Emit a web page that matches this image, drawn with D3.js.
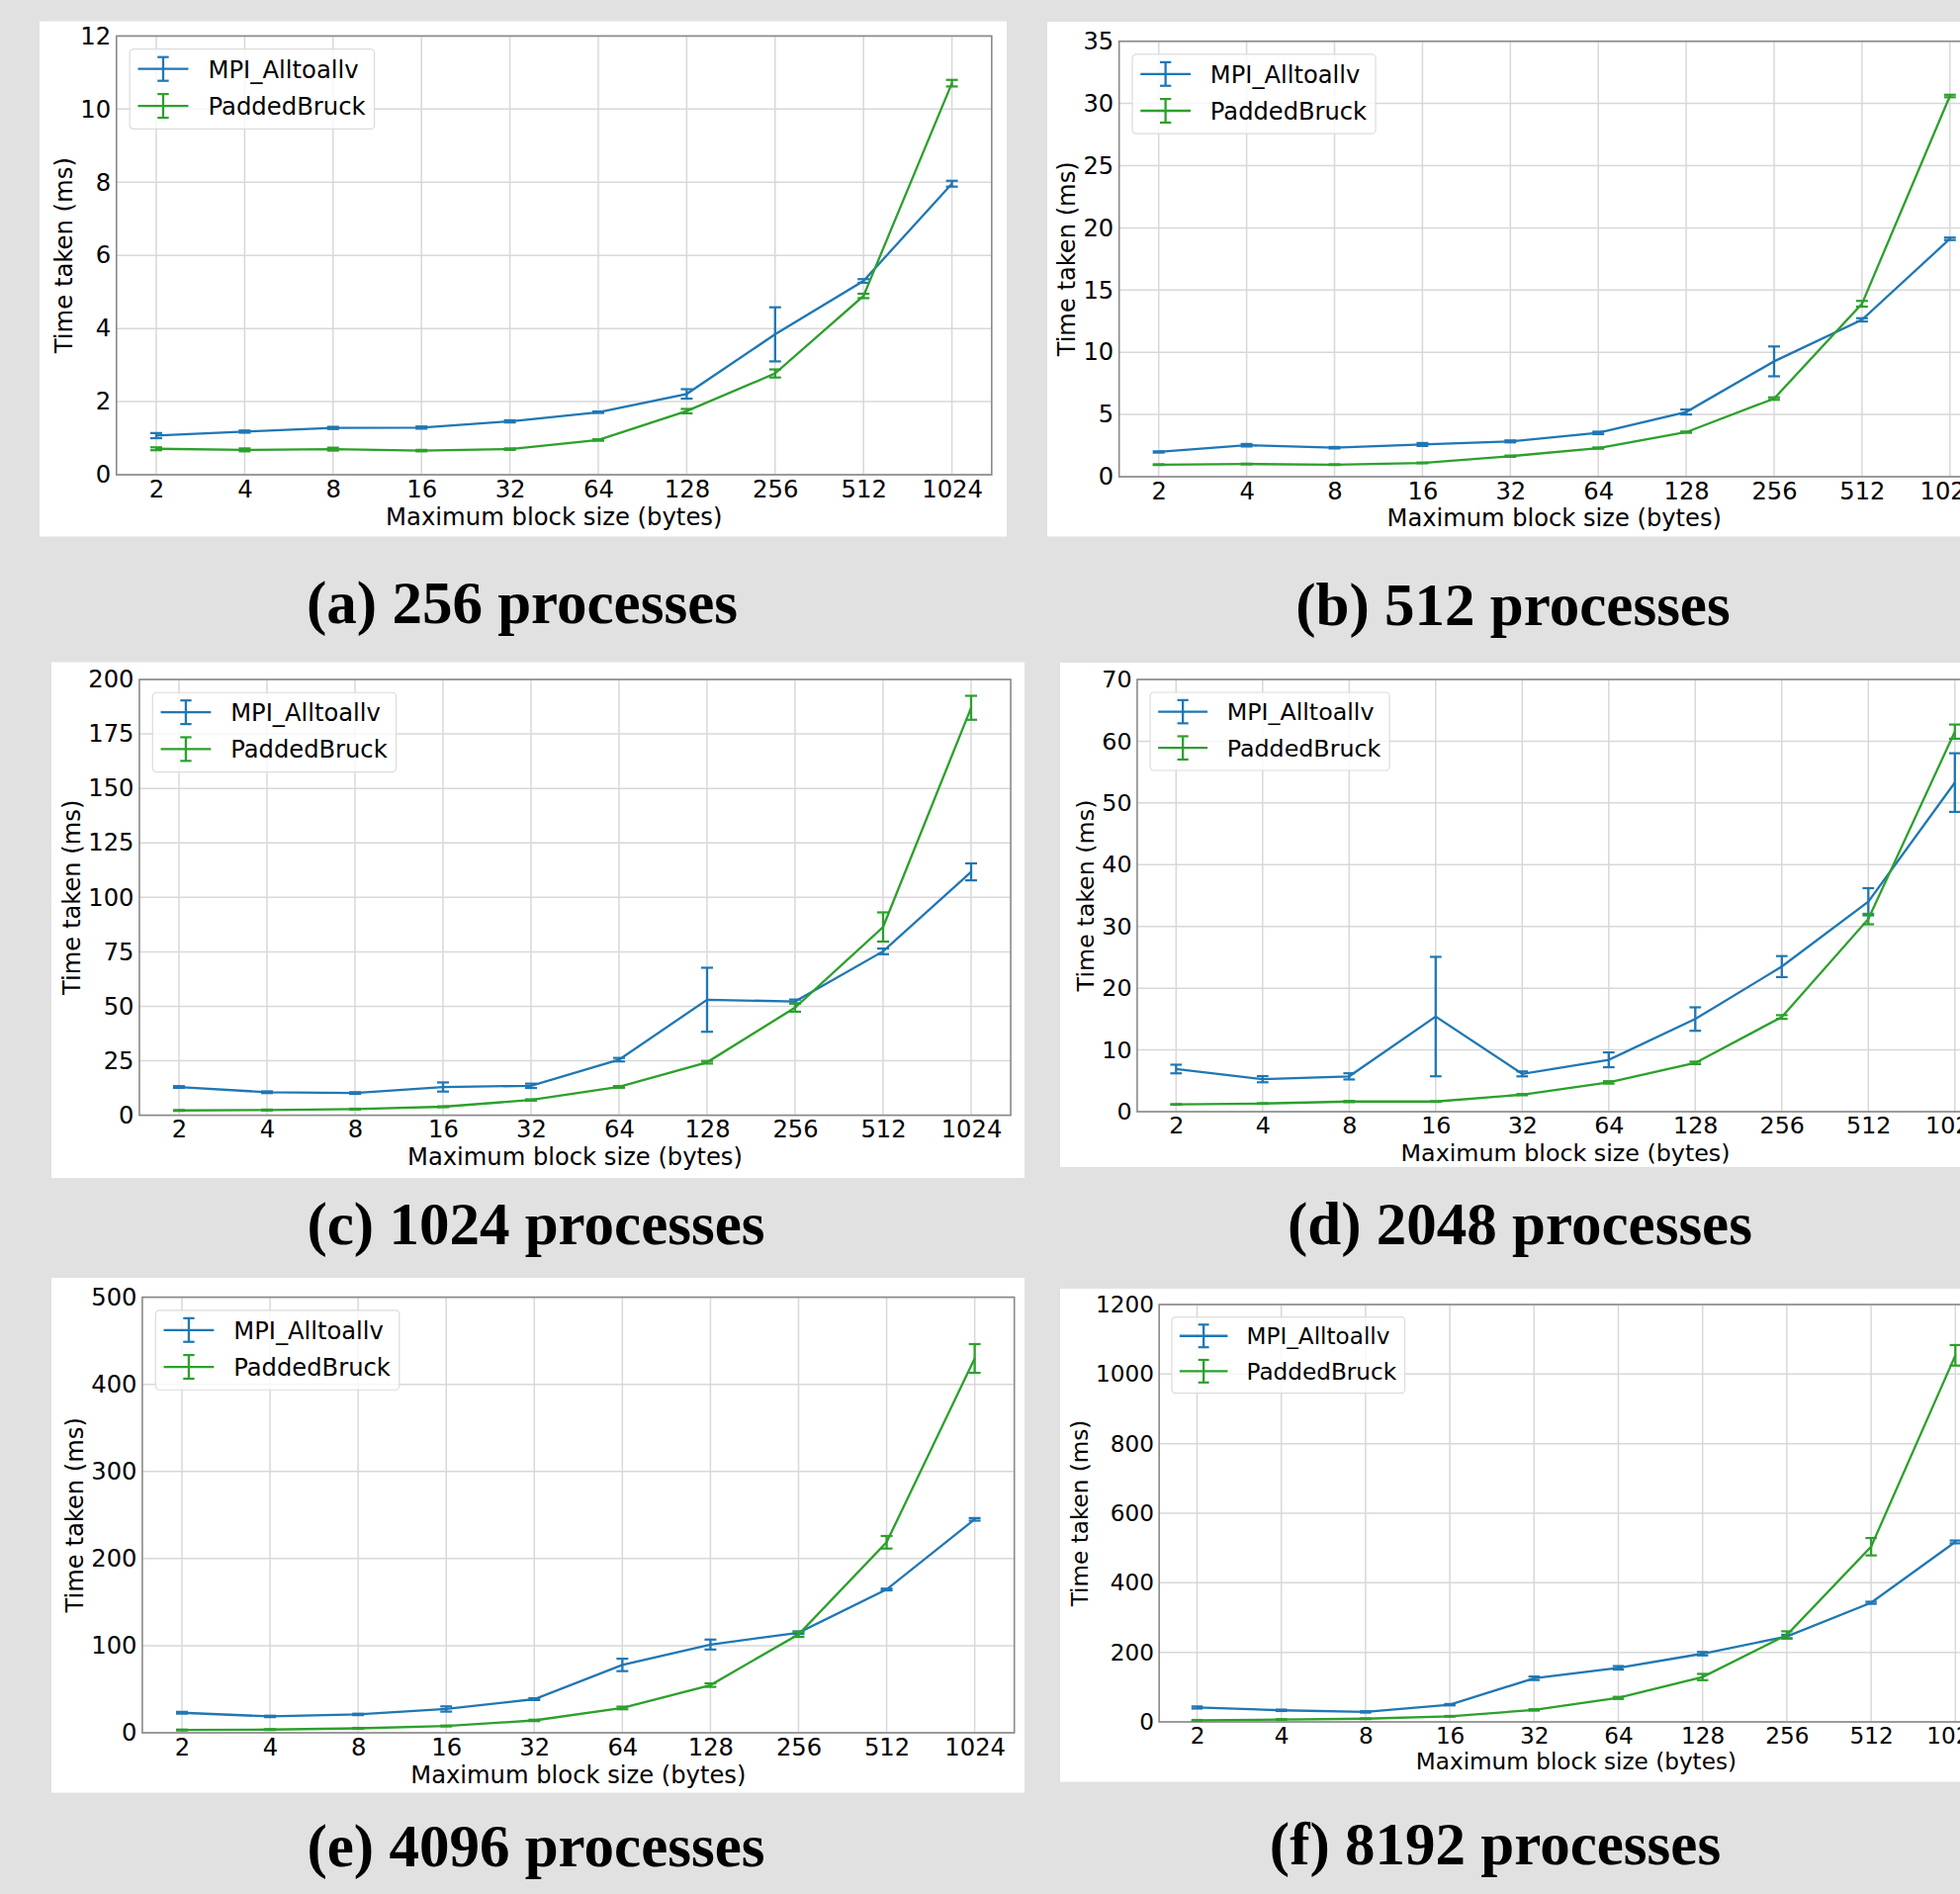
<!DOCTYPE html>
<html>
<head>
<meta charset="utf-8">
<script src="https://cdn.jsdelivr.net/npm/d3@7"></script>
<style>
body { margin: 0; background: #e1e1e1; }
svg { display: block; }
</style>
</head>
<body>
<svg></svg>
<script>
// x軸のカテゴリ
var blockSizes = ["2", "4", "8", "16", "32", "64", "128", "256", "512", "1024"];
var seriesNames = ["MPI_Alltoallv", "PaddedBruck"];

// (a) 256 processes
var mpiA = [1.07, 1.18, 1.28, 1.29, 1.46, 1.71, 2.21, 3.84, 5.30, 7.96];
var mpiAErr = [0.07, 0.03, 0.03, 0.03, 0.03, 0.02, 0.13, 0.74, 0.05, 0.08];
var bruckA = [0.71, 0.68, 0.70, 0.66, 0.70, 0.95, 1.74, 2.77, 4.89, 10.71];
var bruckAErr = [0.04, 0.04, 0.04, 0.02, 0.02, 0.02, 0.06, 0.11, 0.06, 0.09];
var yTicksA = [0, 2, 4, 6, 8, 10, 12];

// (b) 512 processes
var mpiB = [1.99, 2.53, 2.33, 2.59, 2.84, 3.52, 5.2, 9.27, 12.61, 19.12];
var mpiBErr = [0.05, 0.1, 0.06, 0.12, 0.08, 0.1, 0.2, 1.2, 0.13, 0.1];
var bruckB = [0.97, 1.02, 0.97, 1.11, 1.65, 2.30, 3.58, 6.28, 13.9, 30.6];
var bruckBErr = [0.03, 0.03, 0.03, 0.03, 0.05, 0.05, 0.05, 0.1, 0.23, 0.1];
var yTicksB = [0, 5, 10, 15, 20, 25, 30, 35];

// (c) 1024 processes
var mpiC = [12.96, 10.56, 10.19, 12.96, 13.5, 25.5, 53.0, 52.2, 75.2, 111.7];
var mpiCErr = [0.4, 0.4, 0.4, 2.1, 1.0, 0.8, 14.7, 0.9, 1.3, 3.9];
var bruckC = [2.2, 2.4, 2.8, 3.9, 7.0, 13.0, 24.3, 49.4, 86.4, 187.0];
var bruckCErr = [0.2, 0.2, 0.2, 0.2, 0.3, 0.4, 0.6, 1.9, 6.7, 5.5];
var yTicksC = [0, 25, 50, 75, 100, 125, 150, 175, 200];

// (d) 2048 processes
var mpiD = [6.91, 5.26, 5.72, 15.4, 6.12, 8.4, 15.0, 23.5, 34.0, 53.3];
var mpiDErr = [0.7, 0.5, 0.5, 9.67, 0.4, 1.2, 1.9, 1.7, 2.2, 4.75];
var bruckD = [1.18, 1.32, 1.64, 1.64, 2.76, 4.74, 7.9, 15.33, 31.2, 61.55];
var bruckDErr = [0.05, 0.05, 0.1, 0.05, 0.1, 0.2, 0.2, 0.3, 0.85, 1.15];
var yTicksD = [0, 10, 20, 30, 40, 50, 60, 70];

// (e) 4096 processes
var mpiE = [23.0, 18.8, 21.1, 27.3, 38.6, 77.9, 101.3, 114.9, 164.5, 245];
var mpiEErr = [1, 0.8, 0.8, 3, 1, 7.1, 5.7, 1.5, 1, 1.5];
var bruckE = [3.2, 3.7, 5.1, 7.8, 14.2, 28.5, 54.7, 113, 218.7, 429.7];
var bruckEErr = [0.5, 0.5, 0.5, 0.5, 0.8, 1.5, 2, 3, 7.2, 16.5];
var yTicksE = [0, 100, 200, 300, 400, 500];

// (f) 8192 processes
var mpiF = [41.4, 33.4, 28.8, 49.5, 125.4, 155.5, 196.2, 245.5, 342.5, 517.5];
var mpiFErr = [3, 2, 2, 2, 5, 5, 5, 5, 3, 4];
var bruckF = [4.6, 6.9, 9.2, 16.1, 34.5, 69, 129, 250, 503.7, 1054];
var bruckFErr = [1, 1, 1, 1, 2, 3, 9, 10.5, 25, 29.5];
var yTicksF = [0, 200, 400, 600, 800, 1000, 1200];

var titles = ["(a) 256 processes", "(b) 512 processes", "(c) 1024 processes",
              "(d) 2048 processes", "(e) 4096 processes", "(f) 8192 processes"];

// 色
var COLORS = ["#1f77b4", "#2ca02c"];
var FONT = "'DejaVu Sans', sans-serif";

// パネルの配置 (白い枠, 最初の目盛り位置, 目盛り間隔, 上下)
var layout = [
    {bx: 40,   by: 21.5, bw: 978, bh: 521,   x0: 158,    dx: 89.4,  T: 36.4,  B: 480,    tx: 528,  ty: 630},
    {bx: 1059, by: 22,   bw: 980, bh: 520.5, x0: 1171.7, dx: 88.9,  T: 41.7,  B: 482,    tx: 1530, ty: 632},
    {bx: 52,   by: 669.5,bw: 984, bh: 521.5, x0: 181,    dx: 89,    T: 687,   B: 1127.6, tx: 542,  ty: 1258},
    {bx: 1072, by: 670,  bw: 980, bh: 510,   x0: 1189.3, dx: 87.5,  T: 687,   B: 1124,   tx: 1537, ty: 1258},
    {bx: 52,   by: 1292, bw: 984, bh: 520.6, x0: 184,    dx: 89.07, T: 1311.6,B: 1752,   tx: 542,  ty: 1887},
    {bx: 1072, by: 1303, bw: 980, bh: 498.6, x0: 1210.5, dx: 85.2,  T: 1319,  B: 1741,   tx: 1512, ty: 1885},
];

var svg = d3.select("svg").attr("width", 1982).attr("height", 1915);

function drawPanel(p, series, yTicks, title){
    let k = p.dx / 89.4;
    let fs = 24.3 * k;
    let g = svg.append("g");

    g.append("rect")
        .attr("x", p.bx).attr("y", p.by)
        .attr("width", p.bw).attr("height", p.bh)
        .attr("fill", "#fff");

    let L = p.x0 - 0.45 * p.dx, R = p.x0 + 9.45 * p.dx;
    let x = d3.scalePoint().domain(blockSizes).range([L, R]).padding(0.45);
    let y = d3.scaleLinear().domain([0, d3.max(yTicks)]).range([p.B, p.T]);

    // グリッド
    g.append("g").selectAll("line")
        .data(yTicks).enter().append("line")
        .attr("x1", L).attr("x2", R)
        .attr("y1", d => y(d)).attr("y2", d => y(d))
        .attr("stroke", "#d8d8d8").attr("stroke-width", 1.5);
    g.append("g").selectAll("line")
        .data(blockSizes).enter().append("line")
        .attr("x1", d => x(d)).attr("x2", d => x(d))
        .attr("y1", p.T).attr("y2", p.B)
        .attr("stroke", "#d8d8d8").attr("stroke-width", 1.5);

    // 軸
    let gx = g.append("g")
        .attr("transform", "translate(0," + p.B + ")")
        .call(d3.axisBottom(x).tickSize(0).tickPadding(5.5 * k));
    let gy = g.append("g")
        .attr("transform", "translate(" + L + ",0)")
        .call(d3.axisLeft(y).tickValues(yTicks).tickSize(0).tickPadding(5.5 * k).tickFormat(d3.format("d")));
    [gx, gy].forEach(a => {
        a.select(".domain").remove();
        a.attr("font-family", FONT).attr("font-size", fs);
        a.selectAll("text").attr("fill", "#000");
    });

    // 枠
    g.append("rect")
        .attr("x", L).attr("y", p.T)
        .attr("width", R - L).attr("height", p.B - p.T)
        .attr("fill", "none").attr("stroke", "#8a8a8a").attr("stroke-width", 1.6);

    // 線とエラーバー
    let line = d3.line().x((d, i) => x(blockSizes[i])).y(d => y(d));
    let cap = 6 * k;
    series.forEach((s, si) => {
        let sg = g.append("g");
        sg.append("path")
            .attr("d", line(s.v))
            .attr("fill", "none")
            .attr("stroke", COLORS[si]).attr("stroke-width", 2.3);
        let eb = sg.selectAll(".eb")
            .data(s.v.map((v, i) => ({v: v, e: s.e[i], c: blockSizes[i]})))
            .enter().append("g").attr("class", "eb");
        eb.append("line")
            .attr("x1", d => x(d.c)).attr("x2", d => x(d.c))
            .attr("y1", d => y(d.v - d.e)).attr("y2", d => y(d.v + d.e))
            .attr("stroke", COLORS[si]).attr("stroke-width", 2.3);
        [-1, 1].forEach(sign => {
            eb.append("line")
                .attr("x1", d => x(d.c) - cap).attr("x2", d => x(d.c) + cap)
                .attr("y1", d => y(d.v + sign * d.e)).attr("y2", d => y(d.v + sign * d.e))
                .attr("stroke", COLORS[si]).attr("stroke-width", 2.2);
        });
    });

    // 軸ラベル
    g.append("text")
        .attr("x", (L + R) / 2).attr("y", p.B + 50.7 * k)
        .attr("text-anchor", "middle")
        .attr("font-family", FONT).attr("font-size", fs)
        .text("Maximum block size (bytes)");
    let bb = gy.node().getBBox();
    let ylx = L + bb.x - 8.5 * k;
    g.append("text")
        .attr("transform", "translate(" + ylx + "," + ((p.T + p.B) / 2) + ") rotate(-90)")
        .attr("text-anchor", "middle")
        .attr("font-family", FONT).attr("font-size", fs)
        .text("Time taken (ms)");

    // 凡例
    let lx = L + 13.4 * k, ly = p.T + 13.3 * k;
    let lg = g.append("g").attr("transform", "translate(" + lx + "," + ly + ")");
    let box = lg.append("rect")
        .attr("height", 80.7 * k).attr("rx", 4 * k)
        .attr("fill", "#fff").attr("fill-opacity", 0.8)
        .attr("stroke", "#dcdcdc").attr("stroke-width", 1.2);
    let maxW = 0;
    seriesNames.forEach((name, i) => {
        let cy = (20 + 37.4 * i) * k;
        let hx = 33.8 * k;
        lg.append("line")
            .attr("x1", 8.3 * k).attr("x2", 59.3 * k)
            .attr("y1", cy).attr("y2", cy)
            .attr("stroke", COLORS[i]).attr("stroke-width", 2.3);
        lg.append("line")
            .attr("x1", hx).attr("x2", hx)
            .attr("y1", cy - 12 * k).attr("y2", cy + 12 * k)
            .attr("stroke", COLORS[i]).attr("stroke-width", 2.3);
        [-1, 1].forEach(sign => {
            lg.append("line")
                .attr("x1", hx - 5.7 * k).attr("x2", hx + 5.7 * k)
                .attr("y1", cy + sign * 12 * k).attr("y2", cy + sign * 12 * k)
                .attr("stroke", COLORS[i]).attr("stroke-width", 2.2);
        });
        let t = lg.append("text")
            .attr("x", 79.3 * k).attr("y", cy + 0.365 * fs)
            .attr("font-family", FONT).attr("font-size", fs)
            .text(name);
        maxW = Math.max(maxW, t.node().getComputedTextLength());
    });
    box.attr("width", 79.3 * k + maxW + 9 * k);

    // タイトル
    svg.append("text")
        .attr("x", p.tx).attr("y", p.ty)
        .attr("text-anchor", "middle")
        .attr("font-family", "'Times New Roman', 'Liberation Serif', serif")
        .attr("font-weight", "bold")
        .attr("font-size", 61)
        .text(title);
}

var panels = [
    [[{v: mpiA, e: mpiAErr}, {v: bruckA, e: bruckAErr}], yTicksA],
    [[{v: mpiB, e: mpiBErr}, {v: bruckB, e: bruckBErr}], yTicksB],
    [[{v: mpiC, e: mpiCErr}, {v: bruckC, e: bruckCErr}], yTicksC],
    [[{v: mpiD, e: mpiDErr}, {v: bruckD, e: bruckDErr}], yTicksD],
    [[{v: mpiE, e: mpiEErr}, {v: bruckE, e: bruckEErr}], yTicksE],
    [[{v: mpiF, e: mpiFErr}, {v: bruckF, e: bruckFErr}], yTicksF],
];
panels.forEach((d, i) => drawPanel(layout[i], d[0], d[1], titles[i]));
</script>
</body>
</html>
